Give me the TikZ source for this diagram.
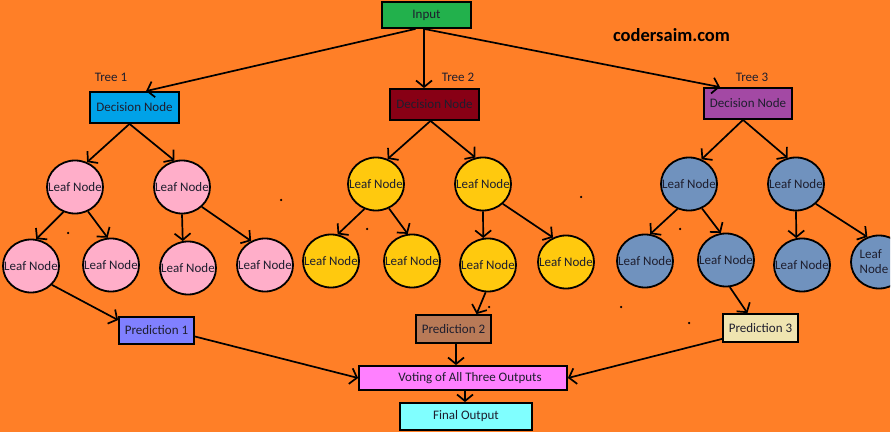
\documentclass[tikz,border=0pt]{standalone}
\usepackage{fontspec}
\setmainfont{Carlito}
\usetikzlibrary{arrows.meta,shapes.geometric,calc}
\definecolor{bgorange}{HTML}{FF7F27}
\definecolor{cgreen}{HTML}{22B14C}
\definecolor{cblue}{HTML}{00A2E8}
\definecolor{cdarkred}{HTML}{880015}
\definecolor{cpurple}{HTML}{A349A4}
\definecolor{cpink}{HTML}{FFAEC9}
\definecolor{cyellow}{HTML}{FFC90E}
\definecolor{cgrayblue}{HTML}{7092BE}
\definecolor{cperi}{HTML}{8080FF}
\definecolor{cbrown}{HTML}{B97A57}
\definecolor{clightyellow}{HTML}{EFE4B0}
\definecolor{cmagenta}{HTML}{FF80FF}
\definecolor{ccyan}{HTML}{80FFFF}
\definecolor{ctext}{HTML}{1E1E2E}
\newcommand{\leaftxt}{\makebox[0pt][c]{Leaf Node}}
\tikzset{
  box/.style={rectangle, draw=black, line width=1.8pt, inner sep=0pt, text=ctext, font=\fontsize{13}{15}\selectfont},
  leaf/.style={ellipse, draw=black, line width=1.8pt, inner sep=0pt, minimum width=56pt, minimum height=53pt, text=ctext, font=\fontsize{13}{15}\selectfont},
  lbl/.style={text=ctext, font=\fontsize{13}{15}\selectfont, inner sep=0pt},
  arr/.style={line width=1.7pt, draw=black, -{Straight Barb[length=6.5pt, width=16pt, line width=1.7pt]}},
  speck/.style={circle, fill=black, inner sep=0pt, minimum size=2.5pt}
}
\begin{document}
\begin{tikzpicture}[x=1pt, y=-1pt]
\useasboundingbox (0,0) rectangle (893,435);
\fill[white] (0,0) rectangle (893,435);
\fill[bgorange] (0,0) rectangle (890,432);
\begin{scope}
\clip (0,0) rectangle (890,432);

% top
\node[box, fill=cgreen, minimum width=89pt, minimum height=26pt] (in) at (426.5,15) {Input};
\node[text=black, inner sep=0pt, font=\fontsize{18.5}{20}\selectfont\bfseries] (site) at (671.5,35) {codersaim.com};

\node[lbl] (t1) at (111,77) {Tree 1};
\node[lbl] (t2) at (458,77) {Tree 2};
\node[lbl] (t3) at (752,77) {Tree 3};

\node[box, fill=cblue, minimum width=89pt, minimum height=31pt] (d1) at (134.5,107.5) {Decision Node};
\node[box, fill=cdarkred, minimum width=89pt, minimum height=31pt] (d2) at (434.5,104.5) {Decision Node};
\node[box, fill=cpurple, minimum width=88pt, minimum height=31pt] (d3) at (748,103.5) {Decision Node};

% level 1 leaves
\node[leaf, fill=cpink] (l1a) at (75,187) {\leaftxt};
\node[leaf, fill=cpink] (l1b) at (182,187) {\leaftxt};
\node[leaf, fill=cyellow] (l2a) at (376,184) {\leaftxt};
\node[leaf, fill=cyellow] (l2b) at (483,184) {\leaftxt};
\node[leaf, fill=cgrayblue] (l3a) at (689,184) {\leaftxt};
\node[leaf, fill=cgrayblue] (l3b) at (796,184) {\leaftxt};

% level 2 leaves
\node[leaf, fill=cpink] (a1) at (31,266) {\leaftxt};
\node[leaf, fill=cpink] (a2) at (111,265) {\leaftxt};
\node[leaf, fill=cpink] (b1) at (188,268) {\leaftxt};
\node[leaf, fill=cpink] (b2) at (265,265) {\leaftxt};
\node[leaf, fill=cyellow] (c1) at (331,261) {\leaftxt};
\node[leaf, fill=cyellow] (c2) at (412,261) {\leaftxt};
\node[leaf, fill=cyellow] (c3) at (488,265) {\leaftxt};
\node[leaf, fill=cyellow] (c4) at (566,262) {\leaftxt};
\node[leaf, fill=cgrayblue] (e1) at (645,261) {\leaftxt};
\node[leaf, fill=cgrayblue] (e2) at (726,260) {\leaftxt};
\node[leaf, fill=cgrayblue] (e3) at (802,265) {\leaftxt};
\node[leaf, fill=cgrayblue] (e4) at (879,262) {\makebox[0pt][c]{\hspace*{-10pt}\shortstack[l]{Leaf\\[3pt]Node}}};

% predictions
\node[box, fill=cperi, minimum width=75pt, minimum height=27pt] (p1) at (156.5,330.5) {Prediction 1};
\node[box, fill=cbrown, minimum width=75pt, minimum height=28pt] (p2) at (453.5,329) {Prediction 2};
\node[box, fill=clightyellow, minimum width=75pt, minimum height=28pt] (p3) at (760.5,328) {Prediction 3};
\node[box, fill=cmagenta, minimum width=208pt, minimum height=24pt] (v) at (463,378) {\hspace*{14pt}Voting of All Three Outputs};
\node[box, fill=ccyan, minimum width=132pt, minimum height=27pt] (f) at (466,416.5) {Final Output};

% helper points
\coordinate (inA) at ($(in.south)+(-11,0)$);
\coordinate (inB) at ($(in.south)+(-2.5,0)$);
\coordinate (d1t) at ($(d1.north)+(11.5,0)$);
\coordinate (d2t) at ($(d2.north)+(-10.5,0)$);
\coordinate (d3t) at ($(d3.north)+(-28,0)$);
\coordinate (d1b) at ($(d1.south)+(-5,0)$);
\coordinate (d2b) at ($(d2.south)+(-4,0)$);
\coordinate (d3b) at ($(d3.south)+(-5,0)$);
\coordinate (p1t) at ($(p1.north west)+(0,4)$);
\coordinate (p2t) at ($(p2.north west)!0.8!(p2.north east)$);
\coordinate (p3t) at ($(p3.north west)!0.33!(p3.north east)$);
\coordinate (p1r) at ($(p1.east)+(0,6)$);
\coordinate (p2b) at ($(p2.south)+(2.5,0)$);
\coordinate (p3l) at ($(p3.south west)+(0,-4)$);
\coordinate (vb) at ($(v.south)+(2,0)$);

% arrows from input
\draw[arr] (inA) -- (d1t);
\draw[arr] (inB) -- (inB |- d2t);
\draw[arr] (inB) -- (d3t);

% decision to level 1
\draw[arr] (d1b) -- (l1a.64);
\draw[arr] (d1b) -- (l1b.106);
\draw[arr] (d2b) -- (l2a.65);
\draw[arr] (d2b) -- (l2b.106);
\draw[arr] (d3b) -- (l3a.63);
\draw[arr] (d3b) -- (l3b.108);

% level 1 to level 2
\draw[arr] (l1a.245) -- (a1.79);
\draw[arr] (l1a.298) -- (a2.97);
\draw[arr] (l1b.270) -- (b1.101);
\draw[arr] (l1b.315) -- (b2.120);
\draw[arr] (l2a.245) -- (c1.76);
\draw[arr] (l2a.298) -- (c2.99);
\draw[arr] (l2b.270) -- (c3.100);
\draw[arr] (l2b.315) -- (c4.118);
\draw[arr] (l3a.245) -- (e1.79);
\draw[arr] (l3a.298) -- (e2.101);
\draw[arr] (l3b.270) -- (e3.102);
\draw[arr] (l3b.315) -- (e4.115);

% to predictions
\draw[arr] (a1.318) -- (p1t);
\draw[arr] (c3.265) -- (p2t);
\draw[arr] (e2.278) -- (p3t);

% to voting
\draw[arr] (p1r) -- (v.west);
\draw[arr] (p2b) -- (p2b |- v.north);
\draw[arr] (p3l) -- (v.east);
\draw[arr] (vb) -- (vb |- f.north);

% specks
\node[speck] (s1) at (281,200) {};
\node[speck] (s2) at (581,197) {};
\node[speck] (s3) at (68,233) {};
\node[speck] (s4) at (367,229) {};
\node[speck] (s5) at (680,229) {};
\node[speck] (s6) at (621,307) {};
\node[speck] (s7) at (689,323) {};
\node[speck] (s8) at (489,307) {};
\end{scope}
\end{tikzpicture}
\end{document}
